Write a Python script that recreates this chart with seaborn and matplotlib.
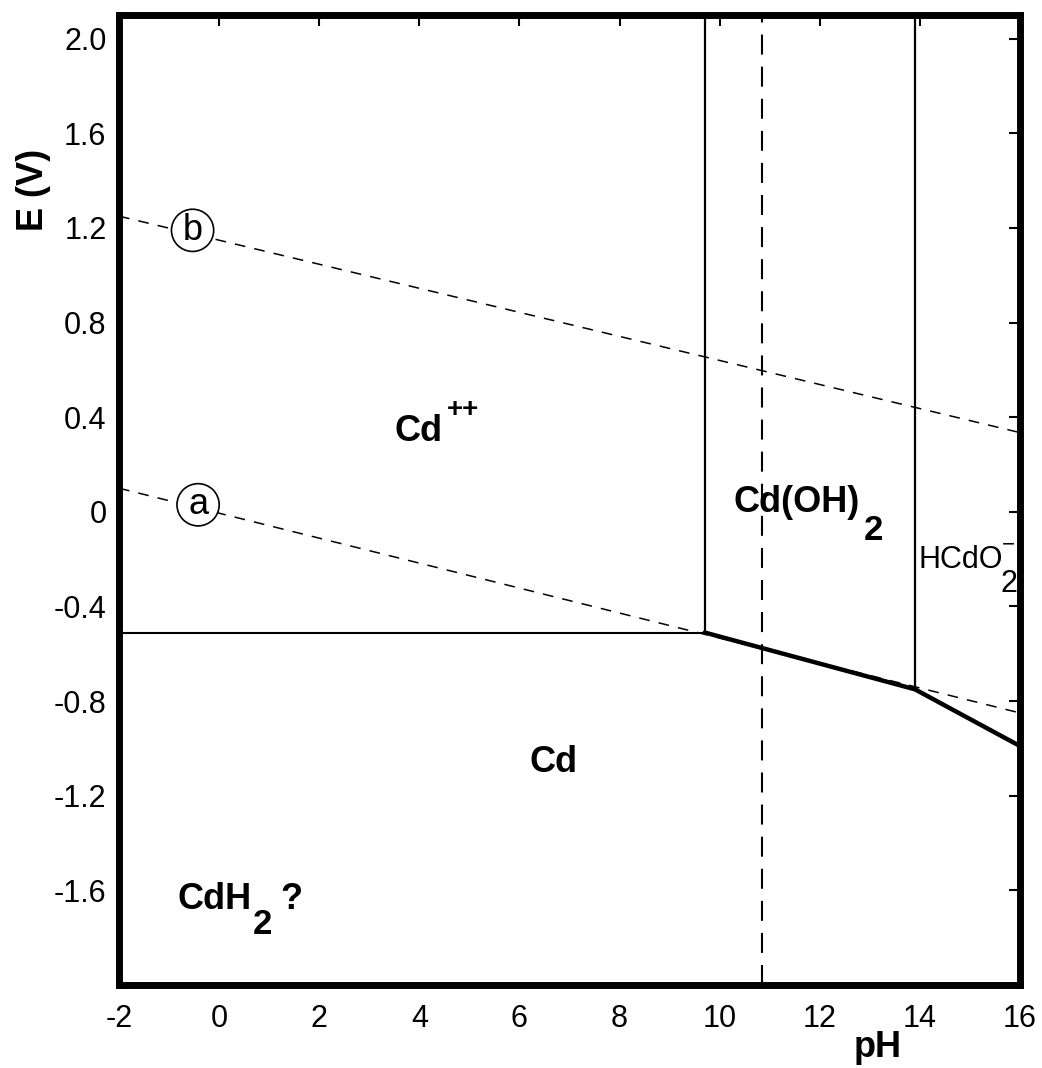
import matplotlib
matplotlib.use("Agg")
import matplotlib.pyplot as plt
import seaborn as sns

# ---------------- data ----------------
ph_limits = [-2, 16]
e_limits = [-2.0, 2.1]
ph_ticks = [-2, 0, 2, 4, 6, 8, 10, 12, 14, 16]
ph_tick_labels = ["-2", "0", "2", "4", "6", "8", "10", "12", "14", "16"]
e_ticks = [-1.6, -1.2, -0.8, -0.4, 0.0, 0.4, 0.8, 1.2, 1.6, 2.0]
e_tick_labels = ["-1.6", "-1.2", "-0.8", "-0.4", "0", "0.4", "0.8", "1.2", "1.6", "2.0"]

# water stability lines (dashed)
water_ph = [-2, 16]
water_a_e = [0.10, -0.85]
water_b_e = [1.25, 0.335]

# Cd / Cd++ boundary (thin)
cd_ion_ph = [-2, 9.7]
cd_ion_e = [-0.51, -0.51]

# Cd / Cd(OH)2 / HCdO2- boundary (thick)
cd_solid_ph = [9.7, 13.9, 16]
cd_solid_e = [-0.51, -0.75, -0.99]

# vertical boundaries: Cd++/Cd(OH)2 and Cd(OH)2/HCdO2-
vert_ph = [9.7, 13.9]
vert_e_low = [-0.51, -0.75]

# dashed vertical line
dashed_ph = [10.85, 10.85]

# ---------------- style ----------------
sns.set_theme(style="white")
NARROW = ["Liberation Sans Narrow", "Liberation Sans", "DejaVu Sans"]
REG = ["Liberation Sans", "DejaVu Sans"]
plt.rcParams["font.family"] = REG

fig = plt.figure(figsize=(10.42, 10.68), dpi=100)
ax = fig.add_axes([0.1142, 0.0777, 0.8647, 0.9082])
ax.set_facecolor("white")

line_kw = dict(estimator=None, sort=False, color="black", ax=ax, legend=False)

# water lines
sns.lineplot(x=water_ph, y=water_a_e, lw=1.1, linestyle=(0, (7, 6)), **line_kw)
sns.lineplot(x=water_ph, y=water_b_e, lw=1.1, linestyle=(0, (7, 6)), **line_kw)

# boundaries
sns.lineplot(x=cd_ion_ph, y=cd_ion_e, lw=1.5, **line_kw)
sns.lineplot(x=cd_solid_ph, y=cd_solid_e, lw=3.2, **line_kw)
for ph, elow in zip(vert_ph, vert_e_low):
    sns.lineplot(x=[ph, ph], y=[elow, e_limits[1]], lw=1.6, **line_kw)
sns.lineplot(x=dashed_ph, y=e_limits, lw=1.5, linestyle=(0, (9.6, 5.8)), **line_kw)

ax.set_xlim(ph_limits)
ax.set_ylim(e_limits)
ax.set_xticks(ph_ticks, ph_tick_labels)
ax.set_yticks(e_ticks, e_tick_labels)
ax.tick_params(axis="both", direction="in", top=True, right=True,
               length=8, width=1.5, color="black", labelsize=22, labelcolor="black")
ax.tick_params(axis="x", pad=14)
ax.tick_params(axis="y", pad=9)
for lab in ax.get_xticklabels() + ax.get_yticklabels():
    lab.set_family(REG)
for sp in ax.spines.values():
    sp.set_visible(True)
    sp.set_linewidth(5)
    sp.set_color("black")
    sp.set_zorder(10)
ax.grid(False)

ax.set_xlabel("pH", fontsize=26, fontweight="bold", family=NARROW, color="black")
ax.set_ylabel("E (V)", fontsize=26, fontweight="bold", family=NARROW, color="black")
ax.xaxis.set_label_coords(0.842, -0.046)
ax.yaxis.set_label_coords(-0.0755, 0.8196)


def chem_label(x, y, base, sub=None, sup=None, weight="bold", size=26,
               sub_size=25, sup_size=20, sub_off=(3, -20), sup_off=(4, 32), clip=False):
    t = ax.text(x, y, base, ha="left", va="baseline", fontsize=size,
                fontweight=weight, family=NARROW, color="black", clip_on=clip, zorder=5)
    if sub:
        ax.annotate(sub, xy=(1, 0), xycoords=t, xytext=sub_off, textcoords="offset pixels",
                    ha="left", va="baseline", fontsize=sub_size, fontweight=weight,
                    family=NARROW, color="black", clip_on=clip, zorder=5)
    if sup:
        ax.annotate(sup, xy=(1, 0), xycoords=t, xytext=sup_off, textcoords="offset pixels",
                    ha="left", va="baseline", fontsize=sup_size, fontweight=weight,
                    family=NARROW, color="black", clip_on=clip, zorder=5)
    return t


chem_label(3.51, 0.30, "Cd", sup="++", sup_off=(4, 32))
chem_label(10.27, 0.0, "Cd(OH)", sub="2", sub_off=(4, -20))
chem_label(13.98, -0.237, "HCdO", sub="2", sup="\u2212", weight="normal", size=22,
           sub_size=22, sub_off=(-3, -17), sup_off=(-1, 24), sup_size=16, clip=True)
chem_label(6.21, -1.10, "Cd")
chem_label(-0.84, -1.68, "CdH", sub="2", sub_off=(2, -17))
ax.text(1.22, -1.68, "?", ha="left", va="baseline", fontsize=26, fontweight="bold",
        family=NARROW, color="black", zorder=5)

# circled line markers
circ = dict(boxstyle="circle,pad=0.1", fc="white", ec="black", lw=1.2)
ax.text(-0.53, 1.19, "b", ha="center", va="center", fontsize=26, family=NARROW,
        color="black", bbox=circ, zorder=6)
ax.text(-0.42, 0.03, "a", ha="center", va="center", fontsize=26, family=NARROW,
        color="black", bbox=circ, zorder=6)

fig.savefig("out.png", dpi=100, facecolor="white")
